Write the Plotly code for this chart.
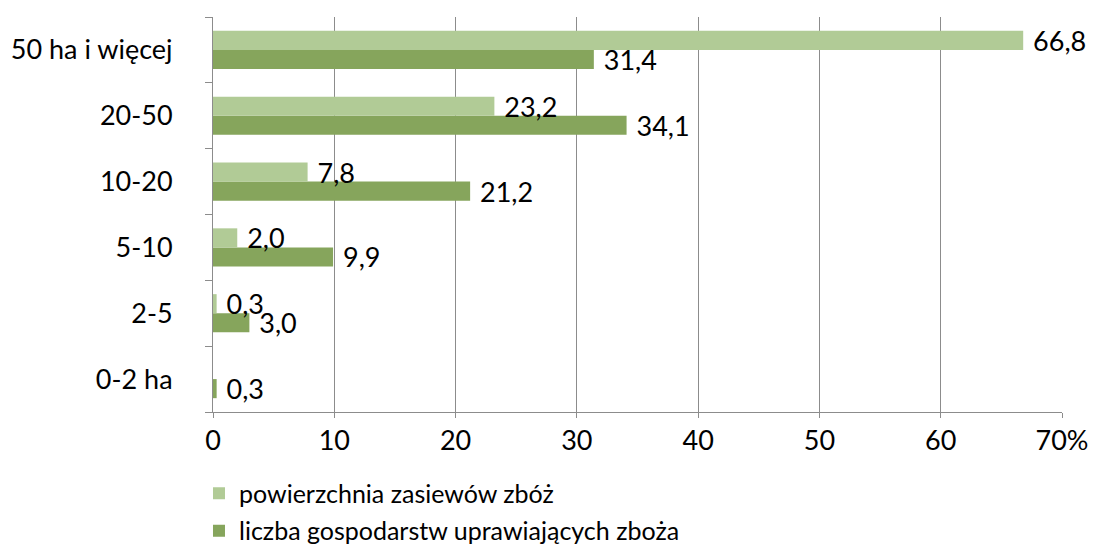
import plotly.graph_objects as go

categories = ["0-2 ha", "2-5", "5-10", "10-20", "20-50", "50 ha i więcej"]
powierzchnia = [0.0, 0.3, 2.0, 7.8, 23.2, 66.8]
gospodarstwa = [0.3, 3.0, 9.9, 21.2, 34.1, 31.4]
series_names = ["powierzchnia zasiewów zbóż", "liczba gospodarstw uprawiających zboża"]
x_tickvals = [0, 10, 20, 30, 40, 50, 60, 70]
x_ticktext = ["0", "10", "20", "30", "40", "50", "60", "70%"]

LIGHT = "#B1CB96"
DARK = "#86A55C"
GRID = "#8C8C8C"
FONT = "Lato, 'Open Sans', sans-serif"
FS = 27
FS_LEG = 25


def fmt(v):
    return "" if v == 0 else " " + f"{v:.1f}".replace(".", ",")


fig = go.Figure()
fig.add_trace(go.Bar(
    y=categories, x=gospodarstwa, orientation="h", name=series_names[1],
    marker=dict(color=DARK, line=dict(width=0)),
    text=[fmt(v) for v in gospodarstwa], textposition="outside",
    constraintext="none",
    textfont=dict(size=FS, color="black", family=FONT),
    cliponaxis=False, legendrank=2, legendgroup="b",
))
fig.add_trace(go.Bar(
    y=categories, x=powierzchnia, orientation="h", name=series_names[0],
    marker=dict(color=LIGHT, line=dict(width=0)),
    text=[fmt(v) for v in powierzchnia], textposition="outside",
    constraintext="none",
    textfont=dict(size=FS, color="black", family=FONT),
    cliponaxis=False, legendrank=1, legendgroup="a",
))

fig.update_layout(
    width=1096, height=541,
    margin=dict(l=205, r=42, t=9, b=137, autoexpand=False),
    barmode="group", bargap=0.42, bargroupgap=0,
    plot_bgcolor="white", paper_bgcolor="white",
    font=dict(family=FONT, size=FS, color="black"),
    showlegend=True,
    legend=dict(orientation="v", x=-0.0165, xanchor="left", y=-0.148, yanchor="top",
                font=dict(size=FS_LEG, family=FONT), traceorder="grouped",
                tracegroupgap=2, itemwidth=30, bgcolor="rgba(0,0,0,0)"),
)
fig.update_xaxes(
    range=[0, 70], tickvals=x_tickvals, ticktext=x_ticktext,
    showgrid=True, gridcolor=GRID, gridwidth=1,
    showline=True, linecolor=GRID, linewidth=1,
    ticks="outside", ticklen=5, tickcolor=GRID,
    tickfont=dict(size=FS, family=FONT), zeroline=False, automargin=False,
)
fig.update_yaxes(
    categoryorder="array", categoryarray=categories,
    showline=True, linecolor=GRID, linewidth=1,
    ticks="outside", ticklen=7, tickcolor=GRID, tickson="boundaries",
    tickfont=dict(size=FS, family=FONT), ticklabelstandoff=34,
    showgrid=False, automargin=False,
)
fig.write_html("out.html")
